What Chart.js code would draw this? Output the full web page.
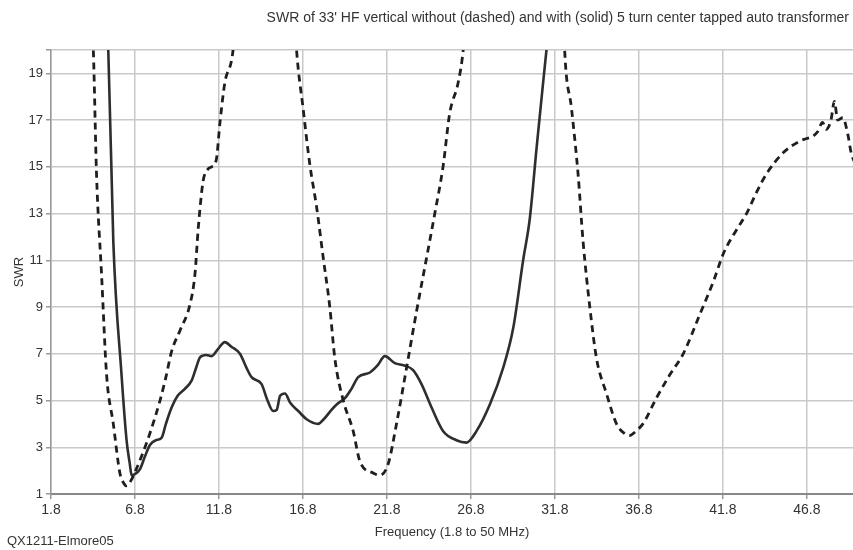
<!DOCTYPE html>
<html>
<head>
<meta charset="utf-8">
<script src="https://cdn.jsdelivr.net/npm/chart.js@4"></script>
<style>
  html, body { margin: 0; padding: 0; background: #fff; }
  #wrap { position: relative; width: 853px; height: 550px; }
  #title { position: absolute; right: 4px; top: 9px; font: 14px 'Liberation Sans', Arial, sans-serif; color: #333; white-space: nowrap; }
  #credit { position: absolute; left: 7px; top: 533px; font: 13px 'Liberation Sans', Arial, sans-serif; color: #333; }
</style>
</head>
<body>
<div id="wrap">
  <canvas id="chart" width="853" height="550"></canvas>
  <div id="title">SWR of 33' HF vertical without (dashed) and with (solid) 5 turn center tapped auto transformer</div>
  <div id="credit">QX1211-Elmore05</div>
</div>
<script>
'use strict';

/* ── Data ───────────────────────────────────────────────── */
const xTicks = [1.8, 6.8, 11.8, 16.8, 21.8, 26.8, 31.8, 36.8, 41.8, 46.8];
const yTicks = [1, 3, 5, 7, 9, 11, 13, 15, 17, 19, 20];

// with auto transformer (solid)
const solidFreq = [5.09, 5.21, 5.51, 6.0, 6.3, 6.49, 6.6, 6.79, 7.09, 7.39, 7.69, 8.04, 8.38, 8.64, 8.98, 9.34,
  9.77, 10.17, 10.44, 10.67, 11.04, 11.36, 11.74, 12.15, 12.54, 13.05, 13.44, 13.74, 14.34, 14.64, 15.03, 15.24,
  15.44, 15.73, 16.04, 16.52, 17.02, 17.71, 18.04, 18.5, 18.84, 19.3, 19.69, 20.09, 20.79, 21.24, 21.68,
  22.27, 22.84, 23.36, 23.86, 24.46, 25.14, 25.94, 26.54, 27.14, 27.94, 28.72, 29.32, 29.91, 30.31, 30.71,
  31.1, 31.3, 31.44];
const solidSwr = [21, 20, 11.8, 6.1, 3.3, 2.3, 1.8, 1.85, 2.05, 2.6, 3.1, 3.3, 3.4, 4.0, 4.7, 5.2,
  5.5, 5.85, 6.4, 6.85, 6.95, 6.9, 7.2, 7.5, 7.3, 7.0, 6.4, 6.0, 5.7, 5.1, 4.55, 4.6,
  5.2, 5.3, 4.9, 4.55, 4.2, 4.0, 4.2, 4.6, 4.85, 5.1, 5.5, 6.0, 6.2, 6.5, 6.9,
  6.6, 6.5, 6.3, 5.7, 4.7, 3.7, 3.3, 3.2, 3.7, 4.85, 6.4, 8.1, 11.0, 12.8, 15.8,
  18.6, 20, 21];

// without transformer (dashed)
const dashFreq = [4.24, 4.32, 4.51, 4.81, 5.11, 5.51, 5.9, 6.14, 6.3, 6.54, 6.9, 7.29, 7.69, 8.29, 8.64, 8.98,
  9.48, 10.07, 10.37, 10.57, 10.86, 11.14, 11.36, 11.64, 11.86, 12.15, 12.64, 12.74, null,
  16.34, 16.42, 16.81, 17.21, 17.61, 18.01, 18.4, 18.7, 19.2, 19.79, 20.19, 20.98, 21.38, 21.88,
  22.37, 22.97, 23.56, 24.16, 24.65, 25.14, 25.54, 26.04, 26.34, 26.44, null,
  32.34, 32.39, 32.79, 33.18, 33.48, 33.88, 34.28, 34.87, 35.47, 35.84, 36.24, 36.64, 37.04, 37.84, 38.64,
  39.44, 40.44, 41.24, 41.84, 42.61, 43.21, 43.8, 44.4, 45.39, 46.38, 46.74, 47.14, 47.44, 47.74, 47.94,
  48.24, 48.44, 48.64, 48.94, 49.24, 49.44, 49.64];
const dashSwr = [21, 20, 14.7, 10.4, 6.1, 4.0, 1.9, 1.45, 1.35, 1.55, 2.1, 2.8, 3.6, 5.0, 6.0, 7.1,
  8.0, 9.1, 10.4, 12.4, 14.4, 14.9, 15.0, 15.3, 16.9, 18.6, 20, 21, null,
  21, 20, 17.5, 15.1, 13.3, 11.1, 9.0, 6.8, 5.0, 3.7, 2.4, 1.9, 1.8, 2.3,
  4.0, 6.4, 8.8, 11.1, 13.0, 15.0, 17.3, 18.6, 20, 21, null,
  21, 19.9, 17.5, 14.7, 11.8, 9.0, 6.8, 5.3, 4.0, 3.65, 3.5, 3.7, 4.0, 5.1, 6.1,
  7.0, 8.7, 10.1, 11.3, 12.3, 13.0, 13.9, 14.7, 15.6, 16.1, 16.2, 16.3, 16.5, 16.9, 16.6,
  17.0, 17.8, 17.0, 17.1, 16.4, 15.6, 15.2];

const pts = (xs, ys) => xs.map((x, i) => ({ x: x, y: ys[i] }));

/* ── Chart ──────────────────────────────────────────────── */
Chart.defaults.font.family = "'Liberation Sans', Arial, sans-serif";
Chart.defaults.color = '#333';

const GRID = { color: '#c9c9c9', lineWidth: 1.5, tickLength: 5, tickColor: '#999' };

new Chart(document.getElementById('chart'), {
  type: 'line',
  data: {
    datasets: [
      {
        data: pts(dashFreq, dashSwr),
        borderColor: '#1e1e1e',
        borderWidth: 2.8,
        borderDash: [7, 5],
        pointRadius: 0,
        cubicInterpolationMode: 'monotone',
        spanGaps: false
      },
      {
        data: pts(solidFreq, solidSwr),
        borderColor: '#2e2e2e',
        borderWidth: 2.6,
        pointRadius: 0,
        cubicInterpolationMode: 'monotone'
      }
    ]
  },
  options: {
    responsive: false,
    animation: false,
    layout: { padding: { top: 50, right: 0, bottom: 0, left: 0 } },
    plugins: { legend: { display: false }, tooltip: { enabled: false } },
    scales: {
      x: {
        type: 'linear',
        min: 1.8,
        max: 49.55,
        afterBuildTicks: s => { s.ticks = xTicks.map(v => ({ value: v })); },
        afterFit: s => { s.height = 56; },
        ticks: {
          autoSkip: false,
          maxRotation: 0,
          padding: 3,
          font: { size: 14 },
          callback: v => v.toFixed(1)
        },
        grid: GRID,
        border: { color: '#888', width: 2 },
        title: {
          display: true,
          text: 'Frequency (1.8 to 50 MHz)',
          font: { size: 13 },
          padding: { top: 0, bottom: 10 }
        }
      },
      y: {
        min: 1,
        max: 20,
        afterBuildTicks: s => { s.ticks = yTicks.map(v => ({ value: v })); },
        afterFit: s => { s.width = 51; },
        ticks: {
          autoSkip: false,
          padding: 3,
          font: { size: 13 },
          callback: v => (v === 20 ? '' : String(v))
        },
        grid: GRID,
        border: { color: '#999', width: 1.5 },
        title: {
          display: true,
          text: 'SWR',
          font: { size: 13 },
          padding: { top: 12, bottom: 0 }
        }
      }
    }
  }
});
</script>
</body>
</html>
